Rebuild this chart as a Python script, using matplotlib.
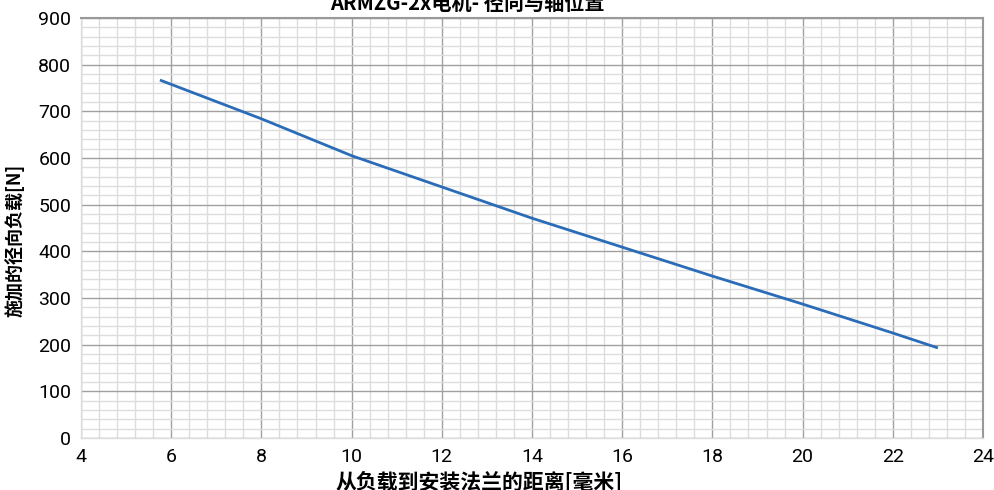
import matplotlib.pyplot as plt
from matplotlib.ticker import MultipleLocator

# distance from load to flange [mm] vs permissible radial load [N]
dist = [5.75, 8, 10, 12, 14, 16, 18, 20, 22, 23]
load = [767, 684, 605, 538, 471, 409, 347, 287, 225, 193]

title = "ARMZG-2x电机- 径向与轴位置"
xlabel = "从负载到安装法兰的距离[毫米]"
ylabel = "施加的径向负载[N]"

cjk = ["Noto Sans CJK SC", "DejaVu Sans"]
num = ["Roboto", "DejaVu Sans"]

fig = plt.figure(figsize=(9.95, 4.9), dpi=100)
ax = fig.add_axes([81 / 995, 1 - 438 / 490, (983 - 81) / 995, (438 - 18) / 490])

ax.plot(dist, load, color="#2a6cb8", lw=2.0, solid_capstyle="butt", zorder=3)

ax.set_xlim(4, 24)
ax.set_ylim(0, 900)
ax.xaxis.set_major_locator(MultipleLocator(2))
ax.xaxis.set_minor_locator(MultipleLocator(0.4))
ax.yaxis.set_major_locator(MultipleLocator(100))
ax.yaxis.set_minor_locator(MultipleLocator(20))

ax.grid(which="minor", color="#dddddd", lw=1.0)
ax.grid(which="major", color="#a0a0a0", lw=1.0)
ax.set_axisbelow(True)

ax.tick_params(which="both", length=0)
ax.tick_params(axis="y", pad=7)
ax.tick_params(axis="x", pad=7)
for lab in ax.get_xticklabels() + ax.get_yticklabels():
    lab.set_family(num)
    lab.set_fontsize(14)

for side in ["top", "right"]:
    ax.spines[side].set_color("#999999")
    ax.spines[side].set_linewidth(1.5)
for side in ["left", "bottom"]:
    ax.spines[side].set_color("#dddddd")
    ax.spines[side].set_linewidth(1.0)

fig.text(467 / 995, 1 - 3 / 490, title, family=cjk, fontsize=14.5,
         fontweight="bold", ha="center", va="center")
fig.text(479 / 995, 1 - 481 / 490, xlabel, family=cjk, fontsize=15,
         fontweight="bold", ha="center", va="center")
fig.text(15 / 995, 1 - 240 / 490, ylabel, family=cjk, fontsize=13,
         fontweight="bold", ha="center", va="center", rotation=90)

fig.savefig("out.png", dpi=100)
